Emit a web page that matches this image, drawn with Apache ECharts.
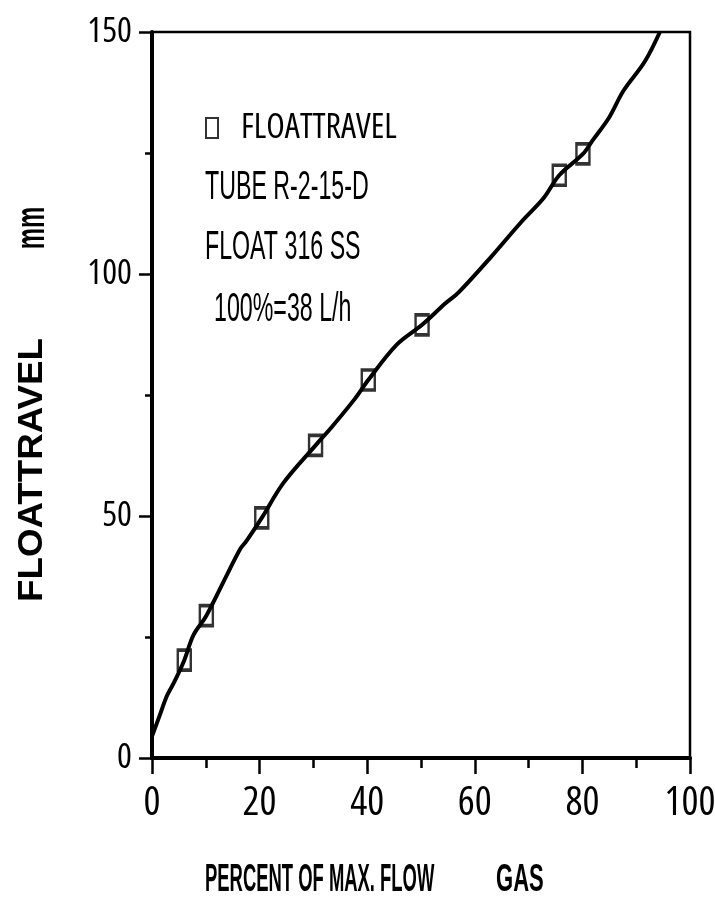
<!DOCTYPE html>
<html>
<head>
<meta charset="utf-8">
<script src="https://cdn.jsdelivr.net/npm/echarts@6/dist/echarts.min.js"></script>
<style>
  html, body { margin: 0; padding: 0; background: #fff; }
  #chart { width: 715px; height: 916px; }
</style>
</head>
<body>
<div id="chart"></div>
<script>
// Float travel calibration: tube R-2-15-D, float 316 SS, 100% = 38 L/h (gas)
const flowPct   = [6, 10.1, 20.4, 30.4, 40.2, 50.2, 75.7, 80.1];
const travelMm  = [20.2, 29.4, 49.6, 64.6, 78.1, 89.5, 120.4, 124.8];

// Calibration curve drawn through the measurements
const curveFlow   = [0, 1.4, 2.8, 4.1, 6, 7.7, 10.1, 14, 16.4, 17.6, 20.4, 24.4, 30.4, 33.5, 37.7, 40.2, 45.5, 50.2, 54.6, 57, 63, 68.6, 72.8, 75.7, 80.1, 81.9, 85, 87.6, 91.6, 94.4];
const curveTravel = [4.5, 8.7, 12.9, 15.6, 20.2, 25.4, 29.4, 38, 43.2, 44.9, 49.6, 56.8, 64.6, 68.5, 74.2, 78.1, 85.4, 89.5, 94, 96.2, 103.5, 110.7, 115.7, 120.4, 124.8, 127.6, 132.4, 137.8, 143.9, 150];

const xTickLabels = ['0', '20', '40', '60', '80', '100'];
const yTickLabels = ['0', '50', '100', '150'];

const notes = ['TUBE R-2-15-D', 'FLOAT 316 SS', '100%=38 L/h'];

const REG = "'Liberation Sans', Arial, sans-serif";
const COND = "'Open Sans', sans-serif";

const chart = echarts.init(document.getElementById('chart'), null, { renderer: 'canvas' });

function noteText(text, x, y) {
  return {
    type: 'text', x: x, y: y, scaleX: 0.58,
    style: { text: text, font: '40px ' + REG, fill: '#000', textAlign: 'left', textVerticalAlign: 'middle' }
  };
}

chart.setOption({
  backgroundColor: '#fff',
  animation: false,
  grid: {
    left: 152, right: 25, top: 32, bottom: 158,
    outerBoundsMode: 'none', containLabel: false,
    show: true, borderColor: '#000', borderWidth: 2.5, backgroundColor: 'transparent'
  },
  legend: {
    data: ['FLOATTRAVEL'],
    left: 200, top: 106,
    itemWidth: 12, itemHeight: 20,
    textStyle: { color: '#000', fontFamily: COND, fontStyle: 'condensed', fontSize: 34, padding: [0, 0, 0, 18] }
  },
  xAxis: {
    type: 'value', min: 0, max: 100, interval: 20,
    axisLine: { show: true, onZero: false, lineStyle: { color: '#000', width: 4 } },
    axisTick: { show: true, inside: false, length: 16, lineStyle: { color: '#000', width: 2.5 } },
    minorTick: { show: true, splitNumber: 2, length: 10, lineStyle: { color: '#000', width: 2.5 } },
    splitLine: { show: false },
    axisLabel: {
      margin: 26, color: '#000', fontFamily: COND, fontStyle: 'condensed', fontSize: 40,
      formatter: function (v) { return xTickLabels[Math.round(v / 20)]; }
    }
  },
  yAxis: {
    type: 'value', min: 0, max: 150, interval: 50,
    axisLine: { show: true, onZero: false, lineStyle: { color: '#000', width: 4 } },
    axisTick: { show: true, inside: false, length: 13, lineStyle: { color: '#000', width: 2.5 } },
    minorTick: { show: true, splitNumber: 2, length: 7, lineStyle: { color: '#000', width: 2.5 } },
    splitLine: { show: false },
    axisLabel: {
      margin: 20, color: '#000', fontFamily: COND, fontStyle: 'condensed', fontSize: 35,
      formatter: function (v) { return yTickLabels[Math.round(v / 50)]; }
    }
  },
  series: [
    {
      name: 'curve', type: 'line',
      data: curveFlow.map(function (x, i) { return [x, curveTravel[i]]; }),
      smooth: 0.35, showSymbol: false, clip: true,
      lineStyle: { color: '#000', width: 4 }, z: 2
    },
    {
      name: 'FLOATTRAVEL', type: 'scatter',
      data: flowPct.map(function (x, i) { return [x, travelMm[i]]; }),
      symbol: 'rect', symbolSize: [13, 20],
      itemStyle: { color: 'rgba(255,255,255,0)', borderColor: '#000', borderWidth: 3 },
      z: 3
    }
  ],
  graphic: [
    noteText(notes[0], 205, 188),
    noteText(notes[1], 205, 248),
    noteText(notes[2], 214, 310),
    {
      type: 'text', x: 32, y: 470, rotation: Math.PI / 2, scaleX: 1.05,
      style: { text: 'FLOATTRAVEL', font: 'bold 35px ' + REG, fill: '#000', textAlign: 'center', textVerticalAlign: 'middle' }
    },
    {
      type: 'text', x: 33, y: 228, rotation: Math.PI / 2, scaleX: 0.6,
      style: { text: 'mm', font: 'bold 40px ' + REG, fill: '#000', textAlign: 'center', textVerticalAlign: 'middle' }
    },
    {
      type: 'text', x: 205, y: 881, scaleX: 0.485,
      style: { text: 'PERCENT OF MAX. FLOW', font: 'bold 38px ' + REG, fill: '#000', textAlign: 'left', textVerticalAlign: 'middle' }
    },
    {
      type: 'text', x: 496, y: 881, scaleX: 0.58,
      style: { text: 'GAS', font: 'bold 38px ' + REG, fill: '#000', textAlign: 'left', textVerticalAlign: 'middle' }
    }
  ]
});
</script>
</body>
</html>
